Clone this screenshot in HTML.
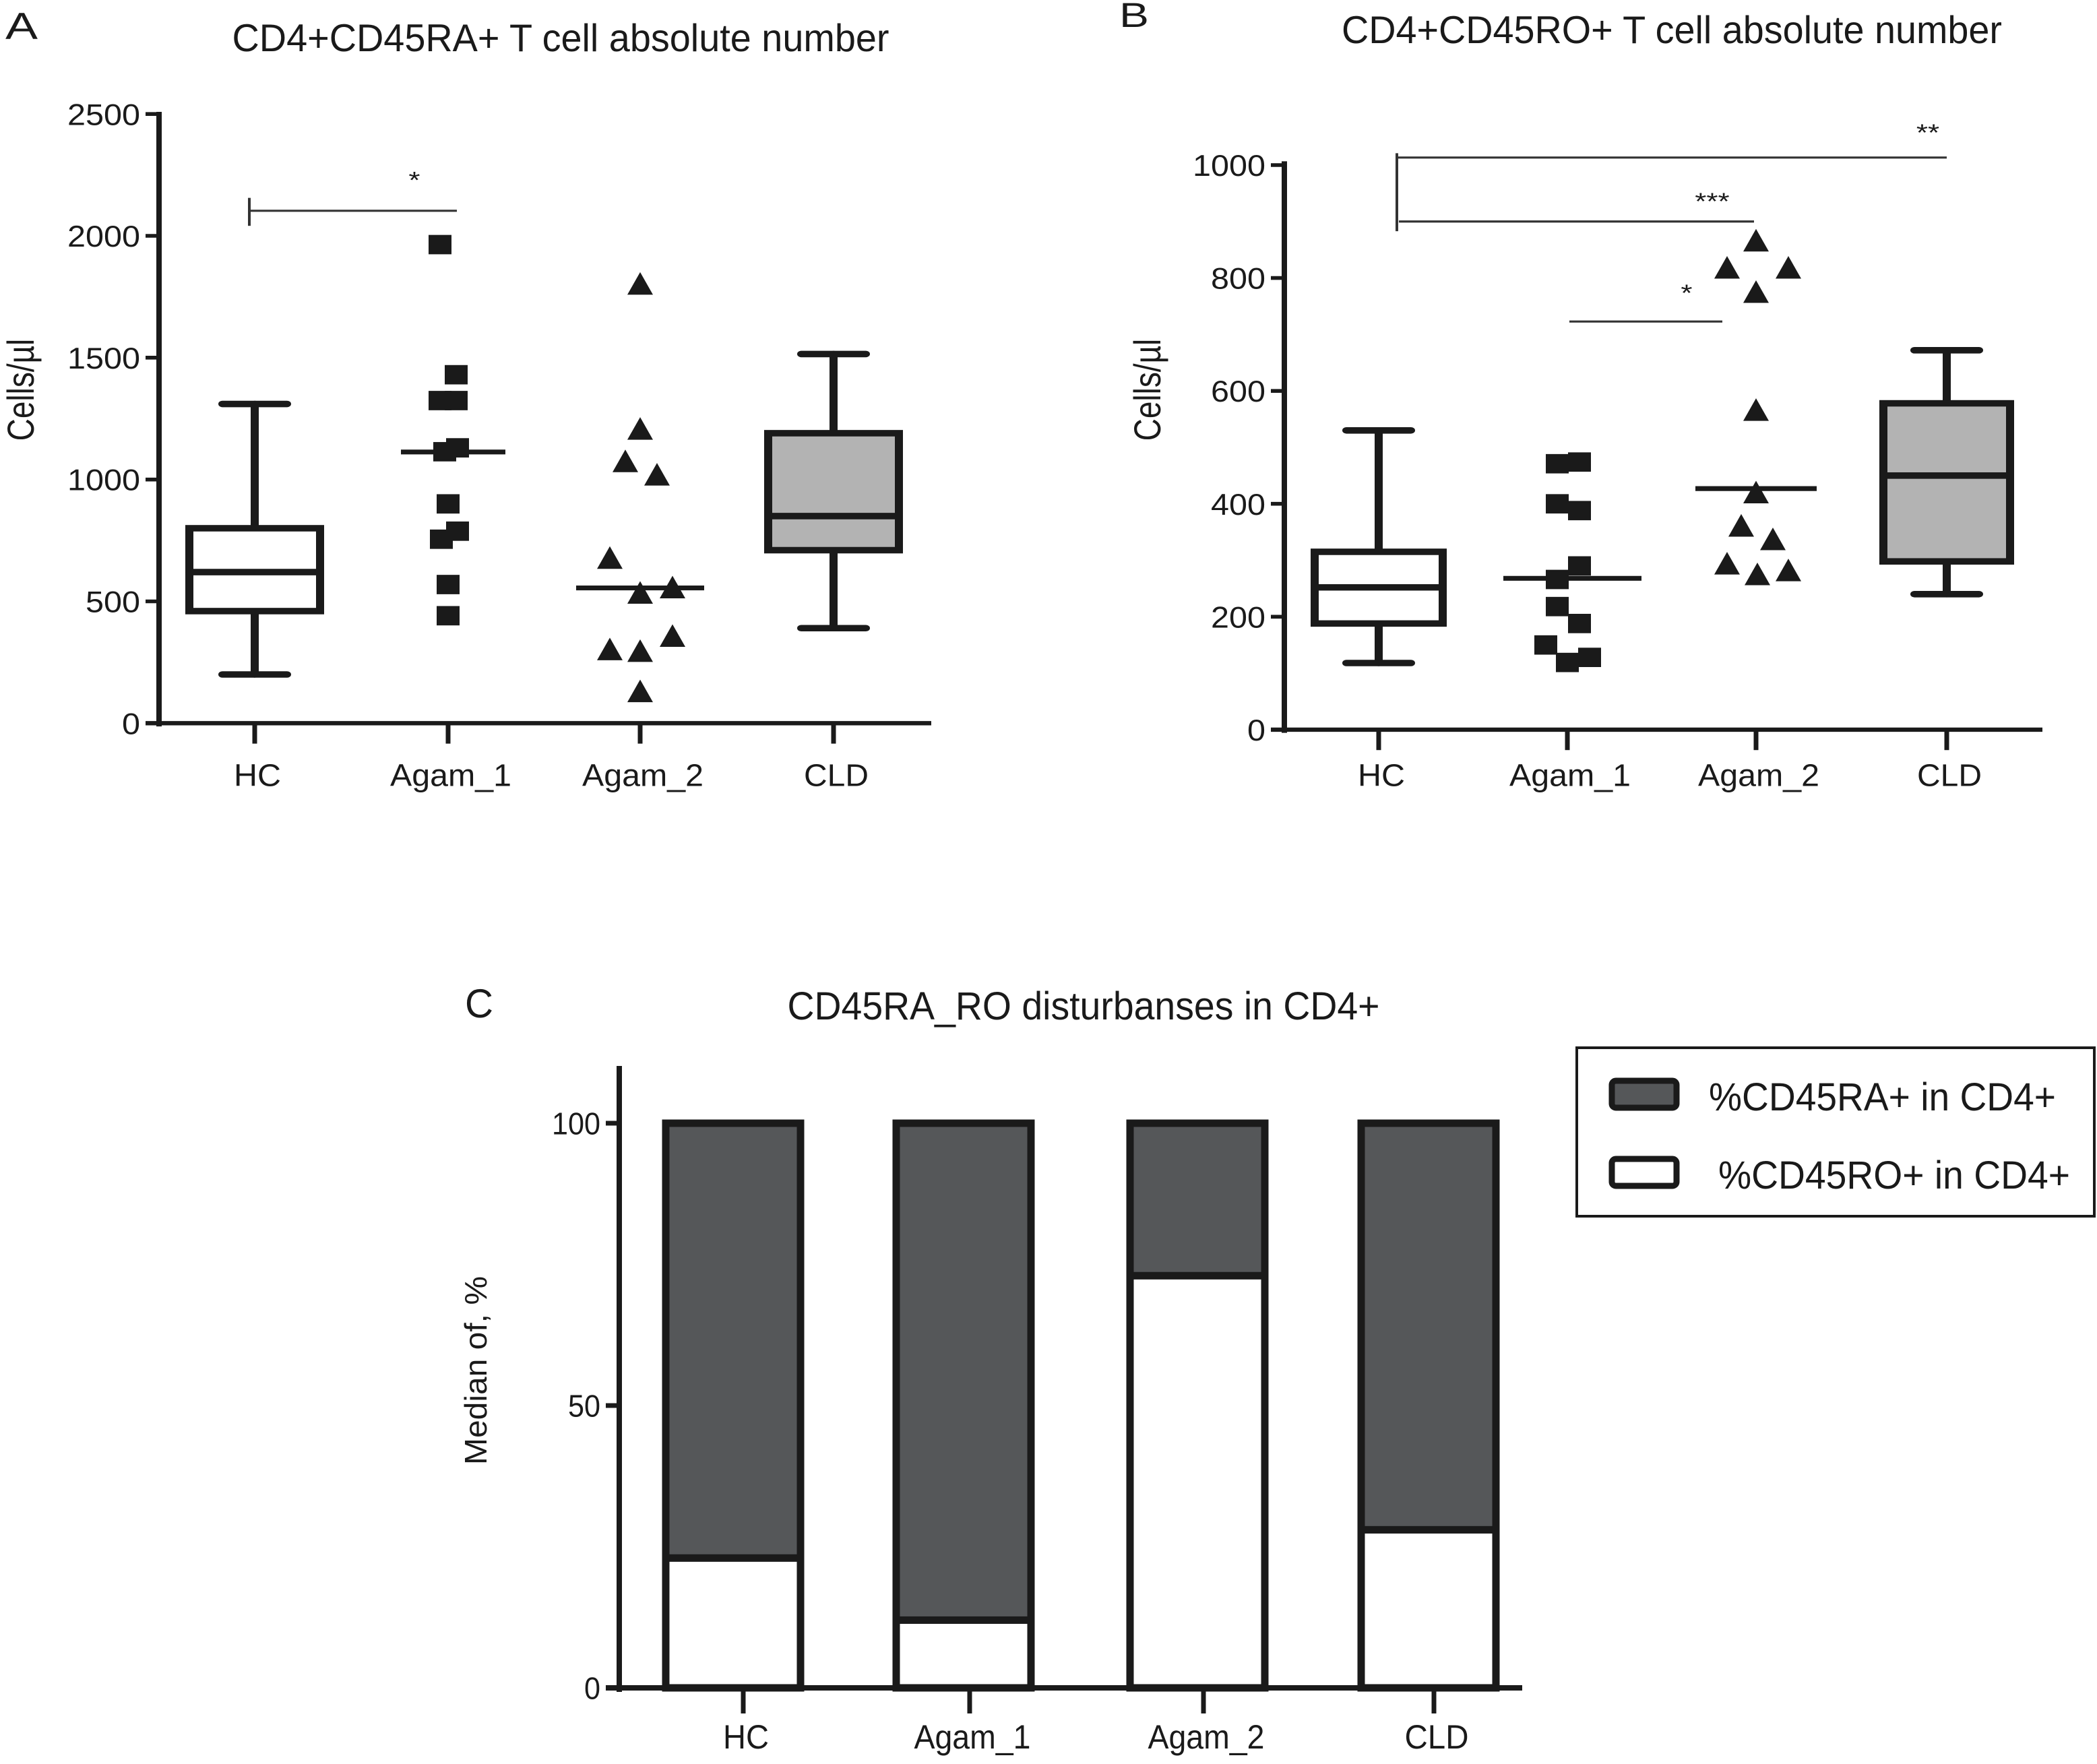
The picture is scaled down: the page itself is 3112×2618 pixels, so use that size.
<!DOCTYPE html>
<html><head><meta charset="utf-8"><style>
html,body{margin:0;padding:0;background:#fff;}
svg{display:block;}
text{font-family:"Liberation Sans Narrow","Liberation Sans",sans-serif;fill:#1a1a1a;}
</style></head>
<body>
<svg id="fig" width="3112" height="2618" viewBox="0 0 3112 2618" xmlns="http://www.w3.org/2000/svg"></svg>
<script>
// ---------- data ----------
const categories = ["HC","Agam_1","Agam_2","CLD"];
// Panel A (CD45RA+)
const aTicks = [0,500,1000,1500,2000,2500];
const aHCBox = [200,460,620,800,1310];      // min,q1,median,q3,max
const aCLDBox = [390,710,850,1190,1515];
const aAgam1 = [1964,1430,1324,1324,1114,1130,900,755,788,569,441];
const aAgam1Median = 1113;
const aAgam2 = [1798,1203,1070,1015,673,530,552,353,298,291,126];
const aAgam2Median = 555;
// Panel B (CD45RO+)
const bTicks = [0,200,400,600,800,1000];
const bHCBox = [118,188,252,315,530];
const bCLDBox = [240,298,450,578,672];
const bAgam1 = [471,474,400,388,290,266,218,188,150,119,128];
const bAgam1Median = 268;
const bAgam2 = [864,816,816,773,564,418,359,335,292,273,280];
const bAgam2Median = 427;
// Panel C (stacked %)
const cTicks = [0,50,100];
const cRO = [23,12,73,28];
const cRA = [77,88,27,72];

// ---------- helpers ----------
const NS="http://www.w3.org/2000/svg";
const svg=document.getElementById('fig');
let root=svg;
function mk(tag,attrs,parent){const e=document.createElementNS(NS,tag);for(const k in attrs)e.setAttribute(k,attrs[k]);(parent||root).appendChild(e);return e;}
function txt(s,x,y,size,anchor,len,parent){const t=mk('text',{x:x,y:y,'font-size':size,'text-anchor':anchor||'start'},parent);if(len){t.setAttribute('textLength',len);t.setAttribute('lengthAdjust','spacingAndGlyphs');}t.textContent=s;return t;}
const offA=[-12,12,-12,12,-5,14,0,-10,14,0,0];
const offAt=[0,0,-22,25,-45,0,48,48,-45,0,0];
const offB=[-15,18,-15,18,18,-15,-15,18,-32,0,33];
const offBt=[0,-43,48,0,0,0,-22,25,-43,2,48];

function panel(cfg){
  const g=mk('g',{});
  
  
  const y=v=>cfg.y0-(v-cfg.tmin)/(cfg.tmax-cfg.tmin)*(cfg.y0-cfg.ytop);
  const ax=mk('line',{x1:cfg.ax,y1:cfg.axTop,x2:cfg.ax,y2:cfg.y0+6,stroke:'#1a1a1a','stroke-width':8},g);
  
  const bx=mk('line',{x1:cfg.ax-20,y1:cfg.y0,x2:cfg.axRight,y2:cfg.y0,stroke:'#1a1a1a','stroke-width':8},g);
  
  cfg.ticks.forEach(t=>{
    const l=mk('line',{x1:cfg.ax-20,y1:y(t),x2:cfg.ax,y2:y(t),stroke:'#1a1a1a','stroke-width':7},g);
    
    const s=String(t);
    const tl=txt(s,cfg.ax-28,y(t)+cfg.tfs*0.36,cfg.tfs,'end',s.length*cfg.tdw,g);
    
  });
  categories.forEach((c,i)=>{
    const x=cfg.cx[i];
    const l=mk('line',{x1:x,y1:cfg.y0,x2:x,y2:cfg.y0+38,stroke:'#1a1a1a','stroke-width':7},g);
    
    const tl=txt(c,x+4,cfg.labY,cfg.cfs,'middle',cfg.catW[i],g);
    
  });
  return {g,y};
}
function box(g,y,x,hw,b,fill){
  const gg=mk('g',{},g);
  
  const st={stroke:'#1a1a1a','stroke-width':12,'stroke-linecap':'round'};
  mk('line',Object.assign({x1:x,y1:y(b[0]),x2:x,y2:y(b[1])},st),gg);
  mk('line',Object.assign({x1:x,y1:y(b[3]),x2:x,y2:y(b[4])},st),gg);
  mk('line',Object.assign({x1:x-48,y1:y(b[0]),x2:x+48,y2:y(b[0])},st),gg);
  mk('line',Object.assign({x1:x-48,y1:y(b[4]),x2:x+48,y2:y(b[4])},st),gg);
  mk('rect',{x:x-hw,y:y(b[3]),width:2*hw,height:y(b[1])-y(b[3]),fill:fill,stroke:'#1a1a1a','stroke-width':12},gg);
  mk('line',Object.assign({x1:x-hw,y1:y(b[2]),x2:x+hw,y2:y(b[2])},st),gg);
}
function squares(g,y,x,vals,offs,med,mw){
  vals.forEach((v,i)=>{
    const r=mk('rect',{x:x+offs[i]-17,y:y(v)-18,width:34,height:36,fill:'#1a1a1a'},g);
    
  });
  const m=mk('line',{x1:x-mw,y1:y(med),x2:x+mw+15,y2:y(med),stroke:'#1a1a1a','stroke-width':9},g);
  
}
function triangles(g,y,x,vals,offs,med,mw){
  vals.forEach((v,i)=>{
    const cx=x+offs[i],cy=y(v);
    const p=mk('polygon',{points:`${cx},${cy-24} ${cx-19},${cy+18} ${cx+19},${cy+18}`,fill:'#1a1a1a'},g);
    
  });
  const m=mk('line',{x1:x-mw,y1:y(med),x2:x+mw,y2:y(med),stroke:'#1a1a1a','stroke-width':9},g);
  
}
function sig(g,x1,x2,yy,vtop,vbot,star,sx,sy){
  const gg=mk('g',{},g);
  
  mk('line',{x1:x1,y1:yy,x2:x2,y2:yy,stroke:'#333','stroke-width':4},gg);
  if(vtop!==null)mk('line',{x1:x1,y1:vtop,x2:x1,y2:vbot,stroke:'#333','stroke-width':4},gg);
  const t=txt(star,sx,sy,44,'middle',null,gg);t.setAttribute('font-family','Liberation Serif, serif');
}

// panels A and B share a vertical compression
const gAB=mk('g',{transform:'scale(1,0.798)'});


root=gAB;

// ---------- Panel A ----------
let t=txt('A',8,72,70,'start',48);
t=txt('CD4+CD45RA+ T cell absolute number',832,95,72,'middle',975);
t=txt('Cells/µl',0,0,56,'middle',190);t.setAttribute('transform','translate(50,725) rotate(-90)');
const A=panel({name:'panel-a',ax:236,axTop:208,axRight:1382,y0:1345,ytop:212,tmin:0,tmax:2500,ticks:aTicks,tfs:56,tdw:27,cx:[378,665,950,1237],labY:1462,cfs:58,catW:[70,180,180,96]});
box(A.g,A.y,378,97,aHCBox,'#ffffff');
squares(A.g,A.y,665,aAgam1,offA,aAgam1Median,70);
triangles(A.g,A.y,950,aAgam2,offAt,aAgam2Median,95);
box(A.g,A.y,1237,97,aCLDBox,'#b3b3b3');
sig(A.g,370,678,392,368,420,'*',615,350);

// ---------- Panel B ----------
t=txt('B',1661,50,64,'start',44);
t=txt('CD4+CD45RO+ T cell absolute number',2481,80,72,'middle',980);
t=txt('Cells/µl',0,0,56,'middle',190);t.setAttribute('transform','translate(1722,725) rotate(-90)');
const B=panel({name:'panel-b',ax:1906,axTop:300,axRight:3031,y0:1357,ytop:307,tmin:0,tmax:1000,ticks:bTicks,tfs:56,tdw:27,cx:[2046,2326,2606,2889],labY:1462,cfs:58,catW:[70,180,180,96]});
box(B.g,B.y,2046,95,bHCBox,'#ffffff');
squares(B.g,B.y,2326,bAgam1,offB,bAgam1Median,95);
triangles(B.g,B.y,2606,bAgam2,offBt,bAgam2Median,90);
box(B.g,B.y,2889,94,bCLDBox,'#b3b3b3');
sig(B.g,2073,2889,293,285,430,'**',2861,262);
sig(B.g,2076,2603,412,null,null,'***',2541,390);
sig(B.g,2329,2556,598,null,null,'*',2503,560);

root=svg;

// ---------- Panel C ----------
t=txt('C',711,1510,60,'middle',42);
t=txt('CD45RA_RO disturbanses in CD4+',1608,1513,58,'middle',879);
t=txt('Median of, %',0,0,46,'middle',280);t.setAttribute('transform','translate(722,2034) rotate(-90)');t.setAttribute('font-family','Liberation Sans, sans-serif');
const C=panel({name:'panel-c',ax:919,axTop:1582,axRight:2259,y0:2505,ytop:1667,tmin:0,tmax:100,ticks:cTicks,tfs:46,tdw:24,cx:[1103,1439,1786,2128],labY:2595,cfs:50,catW:[68,173,173,95]});
const barL=[988,1330,1677,2020];
categories.forEach((c,i)=>{
  const x=barL[i],w=200;
  const ro=mk('rect',{x:x,y:C.y(cRO[i]),width:w,height:C.y(0)-C.y(cRO[i]),fill:'#ffffff',stroke:'#1a1a1a','stroke-width':11},C.g);
  
  const ra=mk('rect',{x:x,y:C.y(cRO[i]+cRA[i]),width:w,height:C.y(cRO[i])-C.y(cRO[i]+cRA[i]),fill:'#555759',stroke:'#1a1a1a','stroke-width':11},C.g);
  
});
// legend
const lg=mk('g',{});

mk('rect',{x:2340,y:1555,width:768,height:250,fill:'#fff',stroke:'#1a1a1a','stroke-width':4},lg);
const e1=mk('g',{},lg);
mk('rect',{x:2392,y:1604,width:96,height:40,rx:6,fill:'#555759',stroke:'#1a1a1a','stroke-width':9},e1);
txt('%CD45RA+ in CD4+',2536,1648,58,'start',515,e1);
const e2=mk('g',{},lg);
mk('rect',{x:2392,y:1720,width:96,height:40,rx:6,fill:'#ffffff',stroke:'#1a1a1a','stroke-width':9},e2);
txt('%CD45RO+ in CD4+',2550,1764,58,'start',522,e2);
</script>
</body></html>
